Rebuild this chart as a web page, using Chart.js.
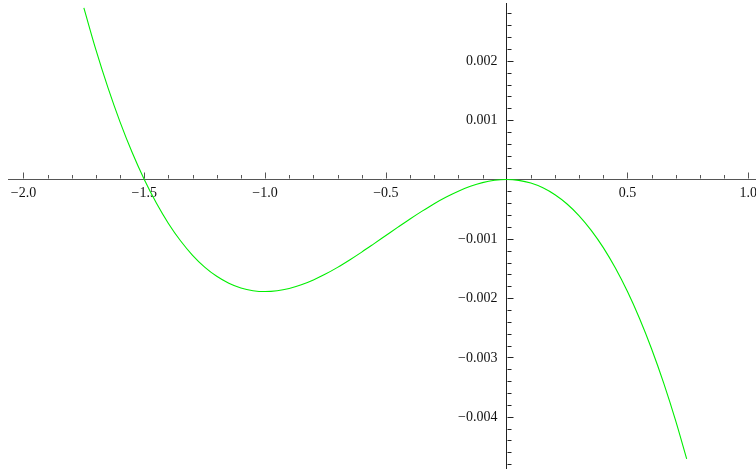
<!DOCTYPE html>
<html>
<head>
<meta charset="utf-8">
<script src="https://cdn.jsdelivr.net/npm/chart.js@4.4.1/dist/chart.umd.min.js"></script>
<style>
  html, body { margin: 0; padding: 0; background: #ffffff; }
  #wrap { width: 756px; height: 473px; }
</style>
</head>
<body>
<div id="wrap"><canvas id="c" width="756" height="473"></canvas></div>
<script>
// ---- data ----
const xValues = [
  -1.75, -1.70, -1.65, -1.60, -1.55, -1.50, -1.45, -1.40, -1.35, -1.30,
  -1.25, -1.20, -1.15, -1.10, -1.05, -1.00, -0.95, -0.90, -0.85, -0.80,
  -0.75, -0.70, -0.65, -0.60, -0.55, -0.50, -0.45, -0.40, -0.35, -0.30,
  -0.25, -0.20, -0.15, -0.10, -0.05, 0.00, 0.05, 0.10, 0.15, 0.20,
  0.25, 0.30, 0.35, 0.40, 0.45, 0.50, 0.55, 0.60, 0.65, 0.70, 0.745
];
const yValues = [
  0.002894, 0.002185, 0.001544, 0.000968, 0.000454, 0.000000, -0.000397, -0.000741, -0.001033, -0.001278,
  -0.001477, -0.001633, -0.001750, -0.001830, -0.001875, -0.001890, -0.001876, -0.001837, -0.001775, -0.001693,
  -0.001595, -0.001482, -0.001357, -0.001225, -0.001086, -0.000945, -0.000804, -0.000665, -0.000533, -0.000408,
  -0.000295, -0.000197, -0.000115, -0.000053, -0.000014, 0.000000, -0.000015, -0.000060, -0.000140, -0.000257,
  -0.000413, -0.000612, -0.000857, -0.001149, -0.001493, -0.001890, -0.002344, -0.002858, -0.003434, -0.004075, -0.004710
];
const xTickValues = [-2.0, -1.5, -1.0, -0.5, 0.5, 1.0];
const xTickLabels = ["\u22122.0", "\u22121.5", "\u22121.0", "\u22120.5", "0.5", "1.0"];
const yTickValues = [0.002, 0.001, -0.001, -0.002, -0.003, -0.004];
const yTickLabels = ["0.002", "0.001", "\u22120.001", "\u22120.002", "\u22120.003", "\u22120.004"];

const points = xValues.map((x, i) => ({ x: x, y: yValues[i] }));

const FONT = { family: "'Liberation Serif', 'Times New Roman', serif", size: 14 };

// Mathematica-style tick marks (major + minor) and y labels placed left of the axis
const axisTicks = {
  id: 'axisTicks',
  afterDraw(chart) {
    const ctx = chart.ctx;
    const xs = chart.scales.x, ys = chart.scales.y;
    const x0 = Math.round(xs.getPixelForValue(0)) + 0.5;
    const y0 = Math.round(ys.getPixelForValue(0)) - 0.5;
    ctx.save();
    ctx.lineWidth = 1;
    ctx.strokeStyle = '#555555';
    for (let i = -20; i <= 10; i++) {
      const v = i / 10;
      if (v < xs.min || v > xs.max || i === 0) continue;
      const px = Math.round(xs.getPixelForValue(v)) + 0.5;
      const len = (i % 5 === 0) ? 6 : 3.5;
      ctx.beginPath();
      ctx.moveTo(px, y0);
      ctx.lineTo(px, y0 - len);
      ctx.stroke();
    }
    ctx.strokeStyle = '#222222';
    for (let i = -24; i <= 14; i++) {
      const v = i * 0.0002;
      if (v < ys.min || v > ys.max || i === 0) continue;
      const py = Math.round(ys.getPixelForValue(v)) + 0.5;
      const len = (i % 5 === 0) ? 6 : 4;
      ctx.beginPath();
      ctx.moveTo(x0, py);
      ctx.lineTo(x0 + len, py);
      ctx.stroke();
    }
    // y tick labels
    ctx.fillStyle = '#111111';
    ctx.font = FONT.size + 'px ' + FONT.family;
    ctx.textAlign = 'right';
    ctx.textBaseline = 'middle';
    yTickValues.forEach((v, i) => {
      ctx.fillText(yTickLabels[i], x0 - 10, ys.getPixelForValue(v) + 0.5);
    });
    ctx.restore();
  }
};

new Chart(document.getElementById('c'), {
  type: 'line',
  data: {
    datasets: [{
      data: points,
      borderColor: '#00ee00',
      borderWidth: 1.1,
      pointRadius: 0,
      fill: false,
      cubicInterpolationMode: 'monotone'
    }]
  },
  options: {
    responsive: false,
    animation: false,
    layout: { padding: { left: 8, right: 0, top: 3, bottom: 5 } },
    plugins: { legend: { display: false }, tooltip: { enabled: false } },
    scales: {
      x: {
        type: 'linear',
        min: -2.064,
        max: 1.032,
        position: { y: 0 },
        grid: { display: false, drawTicks: false },
        border: { display: true, color: '#555555', width: 1 },
        afterBuildTicks: (scale) => { scale.ticks = xTickValues.map(v => ({ value: v })); },
        afterFit: (scale) => { scale.paddingLeft = 0; scale.paddingRight = 0; scale.paddingTop = 0; scale.paddingBottom = 0; },
        ticks: {
          autoSkip: false,
          maxRotation: 0,
          padding: 5,
          color: '#111111',
          font: FONT,
          callback: (value, index) => xTickLabels[index]
        }
      },
      y: {
        type: 'linear',
        min: -0.004865,
        max: 0.002976,
        position: { x: 0 },
        grid: { display: false, drawTicks: false },
        border: { display: true, color: '#222222', width: 1 },
        afterBuildTicks: (scale) => { scale.ticks = yTickValues.map(v => ({ value: v })); },
        afterFit: (scale) => { scale.paddingLeft = 0; scale.paddingRight = 0; scale.paddingTop = 0; scale.paddingBottom = 0; },
        ticks: { display: false }
      }
    }
  },
  plugins: [axisTicks]
});
</script>
</body>
</html>
